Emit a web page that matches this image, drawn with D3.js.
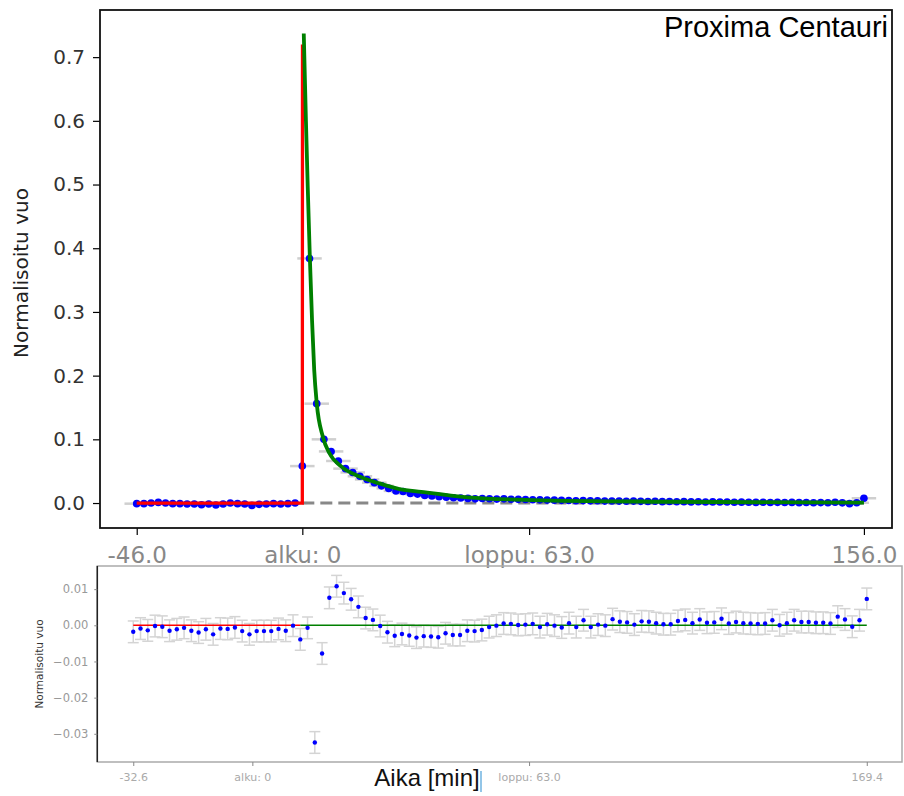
<html lang="en">

<head>
    <meta charset="UTF-8">
    <title>Proxima Centauri</title>
    <style>
        body { margin: 0; background: #fff; }
        svg { display: block; }
    </style>
</head>

<body>

    <script src="https://d3js.org/d3.v7.min.js"></script>

    <script>

        const w = 904;
        const h = 796;

        // aika (min), 2 min valein
        const times = d3.range(-46, 157, 2);

        // normalisoitu vuo, mitatut pisteet
        const fluxPre = [-0.001, -0.001, 0, 0.001, 0, -0.001, -0.001, -0.0016, -0.0016, -0.0026, -0.0016, -0.0031,
            -0.0016, 0, -0.001, -0.0016, -0.0037, -0.0021, -0.0016, -0.001, -0.0016, -0.001, 0];
        const fluxFlare = [0.058, 0.384, 0.156, 0.100, 0.081, 0.066, 0.054, 0.048, 0.042, 0.037, 0.032, 0.027,
            0.023, 0.019, 0.018, 0.015, 0.014, 0.012, 0.011, 0.010, 0.009, 0.0084, 0.0078, 0.0073];
        const fluxTail = [0.0066, 0.0070, 0.0068, 0.0062, 0.0066, 0.0060, 0.0058, 0.0055, 0.0052, 0.0050, 0.0046,
            0.0045, 0.0042, 0.0040, 0.0036, 0.0038, 0.0034, 0.0035, 0.0030, 0.0032, 0.0030, 0.0028, 0.0030, 0.0026,
            0.0025, 0.0027, 0.0022, 0.0024, 0.0020, 0.0022, 0.0018, 0.0020, 0.0016, 0.0018, 0.0015, 0.0016, 0.0012,
            0.0014, 0.0012, 0.0010, 0.0013, 0.0009, 0.0011, 0.0008, 0.0010, 0.0006, 0.0008, 0.0005, 0.0007, 0.0004,
            0.0012, 0.0003, -0.0010, 0.0004, 0.0075];
        const timeErr = 3.4;

        // mallit: nousu (punainen) ja vaimeneminen (vihrea)
        const riseT = [-46, 0, 0.05];
        const riseV = [0, 0, 0.72];
        const decayT = [0.4, 1.0, 1.5, 2.1, 2.7, 3.3, 4.0, 5.7, 7.5, 10.7, 15.7, 21.3, 27, 33, 46, 64, 101, 156];
        const decayV = [0.737, 0.601, 0.497, 0.384, 0.287, 0.209, 0.157, 0.104, 0.0785, 0.058, 0.042, 0.031,
            0.022, 0.0175, 0.009, 0.0047, 0.002, 0.0005];

        // residuaalit (alempi kuva)
        const residuals = [-0.0018, -0.0009, -0.0014, -0.0002, -0.0004, -0.0015, -0.0011, -0.0007, -0.0015, -0.0020,
            -0.0011, -0.0025, -0.0009, -0.0010, -0.0006, -0.0016, -0.0025, -0.0016, -0.0016, -0.0016, -0.0010,
            -0.0015, -0.0001, -0.0039, -0.0007, -0.0324, -0.0078, 0.0076, 0.0108, 0.0089, 0.0072, 0.0051, 0.0020,
            0.0015, -0.0002, -0.0019, -0.0029, -0.0024, -0.0028, -0.0034, -0.0030, -0.0031, -0.0033, -0.0022,
            -0.0027, -0.0027, -0.0015, -0.0016, -0.0013, -0.0005, -0.0001, 0.0005, 0.0004, 0.0001, 0.0002, 0.0004,
            -0.0005, 0.0003, -0.0001, -0.0006, 0.0006, -0.0005, 0.0014, -0.0005, 0.0002, -0.0001, 0.0017, 0.0010,
            0.0008, 0.0002, 0.0011, 0.0010, 0.0006, 0.0003, 0.0003, 0.0012, 0.0015, 0.0006, 0.0016, 0.0007, 0.0008,
            0.0018, 0.0005, 0.0009, 0.0006, 0.0005, 0.0004, 0.0005, 0.0014, 0, 0.0006, 0.0014, 0.0009, 0.0009,
            0.0007, 0.0007, 0.0005, 0.0024, 0.0016, -0.0004, 0.0014, 0.0073];
        const residErr = 0.003;

        const topTicks = [-46, 0, 63, 156];
        const topTickLabels = ["-46.0", "alku: 0", "loppu: 63.0", "156.0"];
        const topYTicks = [0, 0.1, 0.2, 0.3, 0.4, 0.5, 0.6, 0.7];
        const botTicks = [-46, -13.2, 63, 156];
        const botTickLabels = ["-32.6", "alku: 0", "loppu: 63.0", "169.4"];
        const botYTicks = [0.01, 0, -0.01, -0.02, -0.03];

        const flux = fluxPre.concat(fluxFlare, fluxTail);
        const points = times.map((t, i) => ({ t: t, v: flux[i], r: residuals[i] }));

        const svg = d3.select("body")
            .append("svg")
            .attr("width", w)
            .attr("height", h)
            .style("font-family", "'DejaVu Sans', sans-serif");

        svg.append("rect").attr("width", w).attr("height", h).attr("fill", "#fff");

        // ---------- YLEMPI KUVA ----------
        const topBox = { left: 100, right: 892, top: 10, bottom: 528 };

        const x = d3.scaleLinear().domain([-56.2, 163.8]).range([topBox.left, topBox.right]);
        const y = d3.scaleLinear().domain([-0.0392, 0.774]).range([topBox.bottom, topBox.top]);

        const gTop = svg.append("g");

        // virhepalkit aikasuunnassa
        gTop.selectAll("line.xerr")
            .data(points)
            .enter()
            .append("line")
            .attr("x1", (d) => x(d.t - timeErr))
            .attr("x2", (d) => x(d.t + timeErr))
            .attr("y1", (d) => y(d.v))
            .attr("y2", (d) => y(d.v))
            .attr("stroke", "#cfcfcf")
            .attr("stroke-width", 2.5);

        // nollataso
        gTop.append("line")
            .attr("x1", x(0)).attr("x2", x(156))
            .attr("y1", y(0)).attr("y2", y(0))
            .attr("stroke", "#888")
            .attr("stroke-width", 3)
            .attr("stroke-dasharray", "12,6");

        gTop.selectAll("circle")
            .data(points)
            .enter()
            .append("circle")
            .attr("cx", (d) => x(d.t))
            .attr("cy", (d) => y(d.v))
            .attr("r", 3.8)
            .attr("fill", "#0000ff");

        const lineTop = d3.line().x((d) => x(d[0])).y((d) => y(d[1]));

        gTop.append("path")
            .attr("d", lineTop(d3.zip(riseT, riseV)))
            .attr("fill", "none")
            .attr("stroke", "#ff0000")
            .attr("stroke-width", 3.3);

        gTop.append("path")
            .attr("d", lineTop.curve(d3.curveMonotoneX)(d3.zip(decayT, decayV)))
            .attr("fill", "none")
            .attr("stroke", "#008000")
            .attr("stroke-width", 3.8);

        // akselit
        const xAxisTop = d3.axisBottom(x)
            .tickValues(topTicks)
            .tickFormat((d, i) => topTickLabels[i])
            .tickSize(7)
            .tickPadding(12)
            .tickSizeOuter(0);

        const gx = gTop.append("g")
            .attr("transform", "translate(0," + topBox.bottom + ")")
            .call(xAxisTop);
        gx.select(".domain").remove();
        gx.selectAll("line").attr("stroke", "#000").attr("stroke-width", 1.2);
        gx.selectAll("text")
            .attr("fill", "#888")
            .style("font-size", "23px")
            .style("font-family", "'DejaVu Sans', sans-serif");

        const yAxisTop = d3.axisLeft(y)
            .tickValues(topYTicks)
            .tickFormat(d3.format(".1f"))
            .tickSize(7)
            .tickPadding(8)
            .tickSizeOuter(0);

        const gy = gTop.append("g")
            .attr("transform", "translate(" + topBox.left + ",0)")
            .call(yAxisTop);
        gy.select(".domain").remove();
        gy.selectAll("line").attr("stroke", "#000").attr("stroke-width", 1.2);
        gy.selectAll("text")
            .attr("fill", "#333")
            .style("font-size", "20px")
            .style("font-family", "'DejaVu Sans', sans-serif");

        gTop.append("rect")
            .attr("x", topBox.left).attr("y", topBox.top)
            .attr("width", topBox.right - topBox.left).attr("height", topBox.bottom - topBox.top)
            .attr("fill", "none")
            .attr("stroke", "#111")
            .attr("stroke-width", 1.8);

        gTop.append("text")
            .attr("transform", "translate(22," + ((topBox.top + topBox.bottom) / 2 + 4) + ") rotate(-90)")
            .attr("text-anchor", "middle")
            .attr("dominant-baseline", "middle")
            .attr("fill", "#222")
            .style("font-size", "20px")
            .text("Normalisoitu vuo");

        gTop.append("text")
            .attr("x", 888)
            .attr("y", 37)
            .attr("text-anchor", "end")
            .attr("fill", "#000")
            .style("font-family", "'Liberation Sans', Arial, sans-serif")
            .style("font-size", "29px")
            .text("Proxima Centauri");

        // ---------- ALEMPI KUVA (residuaalit) ----------
        const botBox = { left: 97.3, right: 902, top: 566, bottom: 762 };

        const xb = d3.scaleLinear().domain([-55.9, 165.7]).range([botBox.left, botBox.right]);
        const yb = d3.scaleLinear().domain([-0.0378, 0.0164]).range([botBox.bottom, botBox.top]);

        const gBot = svg.append("g");

        gBot.append("rect")
            .attr("x", botBox.left).attr("y", botBox.top)
            .attr("width", botBox.right - botBox.left).attr("height", botBox.bottom - botBox.top)
            .attr("fill", "none")
            .attr("stroke", "#aaa")
            .attr("stroke-width", 1.5);

        gBot.append("line")
            .attr("x1", botBox.left).attr("x2", botBox.left)
            .attr("y1", botBox.top).attr("y2", botBox.bottom)
            .attr("stroke", "#222")
            .attr("stroke-width", 1.5);

        // virhepalkit
        const errs = gBot.selectAll("g.err")
            .data(points)
            .enter()
            .append("g")
            .attr("stroke", "#d4d4d4")
            .attr("stroke-width", 1.5);
        errs.append("line")
            .attr("x1", (d) => xb(d.t)).attr("x2", (d) => xb(d.t))
            .attr("y1", (d) => yb(d.r - residErr)).attr("y2", (d) => yb(d.r + residErr));
        errs.append("line")
            .attr("x1", (d) => xb(d.t) - 5.5).attr("x2", (d) => xb(d.t) + 5.5)
            .attr("y1", (d) => yb(d.r - residErr)).attr("y2", (d) => yb(d.r - residErr));
        errs.append("line")
            .attr("x1", (d) => xb(d.t) - 5.5).attr("x2", (d) => xb(d.t) + 5.5)
            .attr("y1", (d) => yb(d.r + residErr)).attr("y2", (d) => yb(d.r + residErr));

        gBot.append("line")
            .attr("x1", xb(-46)).attr("x2", xb(0))
            .attr("y1", yb(0)).attr("y2", yb(0))
            .attr("stroke", "#ff0000")
            .attr("stroke-width", 1.6);
        gBot.append("line")
            .attr("x1", xb(0)).attr("x2", xb(156))
            .attr("y1", yb(0)).attr("y2", yb(0))
            .attr("stroke", "#008000")
            .attr("stroke-width", 1.6);

        gBot.selectAll("circle")
            .data(points)
            .enter()
            .append("circle")
            .attr("cx", (d) => xb(d.t))
            .attr("cy", (d) => yb(d.r))
            .attr("r", 2.2)
            .attr("fill", "#0000ff");

        const xAxisBot = d3.axisBottom(xb)
            .tickValues(botTicks)
            .tickFormat((d, i) => botTickLabels[i])
            .tickSize(4)
            .tickPadding(7)
            .tickSizeOuter(0);

        const gxb = gBot.append("g")
            .attr("transform", "translate(0," + botBox.bottom + ")")
            .call(xAxisBot);
        gxb.select(".domain").remove();
        gxb.selectAll("line").attr("stroke", "#888");
        gxb.selectAll("text")
            .attr("fill", "#aaa")
            .style("font-size", "11px")
            .style("font-family", "'DejaVu Sans', sans-serif");

        const yAxisBot = d3.axisLeft(yb)
            .tickValues(botYTicks)
            .tickFormat(d3.format(".2f"))
            .tickSize(3)
            .tickPadding(6)
            .tickSizeOuter(0);

        const gyb = gBot.append("g")
            .attr("transform", "translate(" + botBox.left + ",0)")
            .call(yAxisBot);
        gyb.select(".domain").remove();
        gyb.selectAll("line").attr("stroke", "#888");
        gyb.selectAll("text")
            .attr("fill", "#999")
            .style("font-size", "11.5px")
            .style("font-family", "'DejaVu Sans', sans-serif");

        gBot.append("text")
            .attr("transform", "translate(40,664) rotate(-90)")
            .attr("text-anchor", "middle")
            .attr("dominant-baseline", "middle")
            .attr("fill", "#333")
            .style("font-size", "10.5px")
            .text("Normalisoitu vuo");

        gBot.append("text")
            .attr("x", 427)
            .attr("y", 786)
            .attr("text-anchor", "middle")
            .attr("fill", "#111")
            .style("font-family", "'Liberation Sans', Arial, sans-serif")
            .style("font-size", "24px")
            .text("Aika [min]");

        // pieni sininen merkki kuvakaappauksessa
        gBot.append("line")
            .attr("x1", 481).attr("x2", 481)
            .attr("y1", 771).attr("y2", 792)
            .attr("stroke", "#6fb3e0")
            .attr("stroke-width", 1.5);

    </script>

</body>

</html>
